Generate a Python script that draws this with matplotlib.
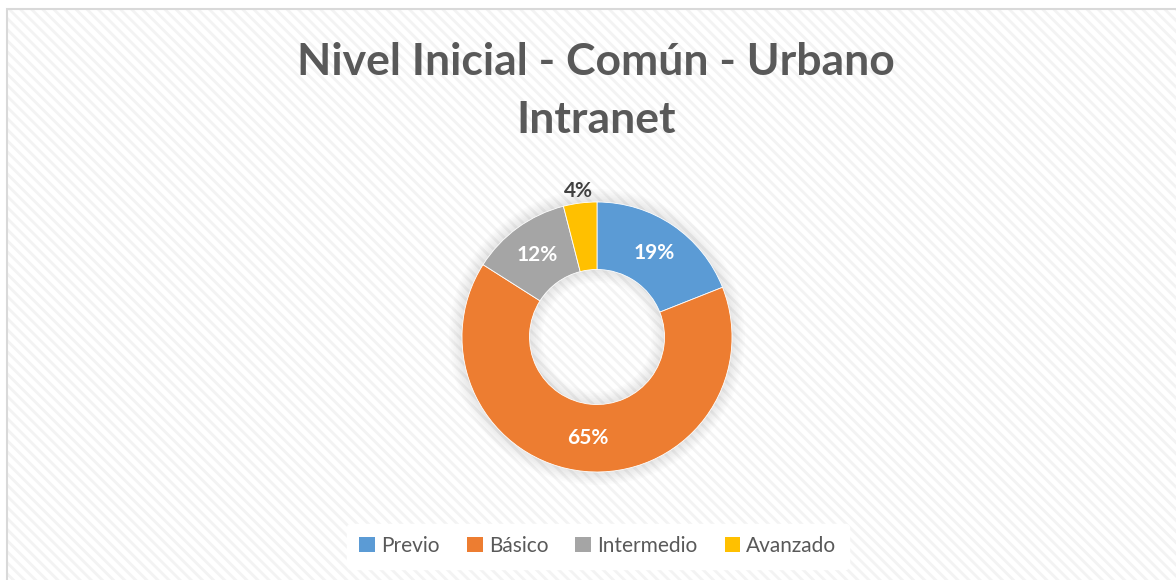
import numpy as np
import matplotlib.pyplot as plt
from matplotlib.patches import Rectangle, Patch

plt.rcParams['font.family'] = ['Lato', 'DejaVu Sans']
plt.rcParams['hatch.linewidth'] = 2.0

# Data
categories = ['Previo', 'Básico', 'Intermedio', 'Avanzado']
values = [19, 65, 12, 4]
colors = ['#5b9bd5', '#ed7d31', '#a5a5a5', '#ffc000']
title_lines = ['Nivel Inicial - Común - Urbano', 'Intranet']

W, H = 1176, 580
fig = plt.figure(figsize=(W / 100, H / 100), dpi=100)
fig.patch.set_facecolor('white')

# chart area: light diagonal stripes + thin border
area = dict(xy=(7 / W, -0.01), width=1.0, height=1 - 9 / H + 0.01, transform=fig.transFigure)
stripes = Rectangle(facecolor='white', edgecolor='#f3f3f3', linewidth=0,
                    hatch='\\\\\\', zorder=-6, **area)
border = Rectangle(facecolor='none', edgecolor='#d9d9d9', linewidth=1.5, zorder=-5, **area)
fig.patches.extend([stripes, border])

# donut axes: center (597, 337), outer radius 135 px
R = 135
half = 180
cx, cy = 597, 337
ax = fig.add_axes([(cx - half) / W, (H - cy - half) / H, 2 * half / W, 2 * half / H])

# soft shadow
for i in range(8):
    ax.pie([1], radius=1.0 + 0.012 * (8 - i), colors=['#000000'],
           wedgeprops=dict(width=0.5 + 0.024 * (8 - i), alpha=0.012, linewidth=0))

wedges, _ = ax.pie(values, colors=colors, startangle=90, counterclock=False,
                   radius=1.0, wedgeprops=dict(width=0.5, edgecolor='white', linewidth=0.6))

total = sum(values)
start = 90
for v, w in zip(values, wedges):
    mid = np.deg2rad(start - v / total * 360 / 2)
    start -= v / total * 360
    if v < 6:
        r, col = 1.09, '#404040'
    else:
        r, col = 0.75, 'white'
    ax.text(r * np.cos(mid), r * np.sin(mid), f'{v}%', ha='center', va='center',
            fontsize=15, fontweight='bold', color=col)

ax.set_xlim(-half / R, half / R)
ax.set_ylim(-half / R, half / R)
ax.set_aspect('equal')
ax.axis('off')

# title
fig.text(596 / W, 1 - 62 / H, title_lines[0], ha='center', va='center',
         fontsize=32, fontweight='bold', color='#595959')
fig.text(596 / W, 1 - 120 / H, title_lines[1], ha='center', va='center',
         fontsize=32, fontweight='bold', color='#595959')

# legend
handles = [Patch(facecolor=c, edgecolor='none') for c in colors]
leg = fig.legend(handles, categories, loc='center', bbox_to_anchor=(598 / W, 1 - 546 / H),
                 ncol=4, frameon=True, fontsize=15, handlelength=0.75, handleheight=0.75,
                 handletextpad=0.3, columnspacing=1.3, borderpad=0.6)
leg.get_frame().set_facecolor('white')
leg.get_frame().set_edgecolor('white')
leg.get_frame().set_alpha(1)
for t in leg.get_texts():
    t.set_color('#595959')

fig.savefig('out.png', dpi=100)
